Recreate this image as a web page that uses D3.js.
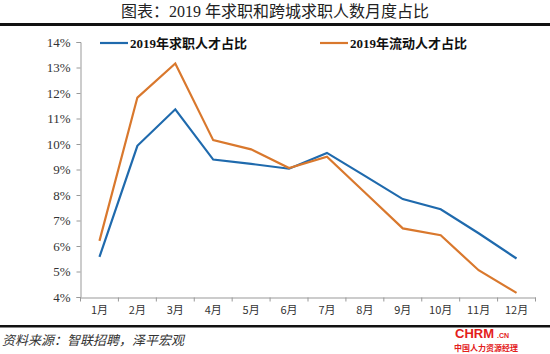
<!DOCTYPE html>
<html><head><meta charset="utf-8">
<script src="https://cdn.jsdelivr.net/npm/d3@7"></script>
<style>body{margin:0;background:#fff;}svg{display:block;}</style>
</head><body>
<svg id="c" width="550" height="354"></svg>
<script>
const months = ["1月","2月","3月","4月","5月","6月","7月","8月","9月","10月","11月","12月"];
const seekers = [5.57,9.93,11.36,9.39,9.22,9.03,9.65,8.75,7.84,7.44,6.5,5.51];
const mobile = [6.2,11.82,13.16,10.15,9.79,9.06,9.5,8.1,6.69,6.42,5.05,4.16];
const yTicks = [4,5,6,7,8,9,10,11,12,13,14];
const seriesNames = ["2019年求职人才占比","2019年流动人才占比"];
const colors = ["#1f6aad","#d9782d"];

const svg = d3.select("#c");
const x = d3.scaleBand().domain(months).range([80.5,535.5]);
const y = d3.scaleLinear().domain([4,14]).range([297,42]);

// title
svg.append("text").attr("x",275).attr("y",17).attr("text-anchor","middle")
  .attr("font-family","'Liberation Serif','Noto Sans CJK SC',serif").attr("font-size",16).attr("fill","#222")
  .text("图表：2019 年求职和跨城求职人数月度占比");
svg.append("rect").attr("x",0).attr("y",23).attr("width",550).attr("height",3).attr("fill","#111");

// y axis
const ya = svg.append("g").attr("transform","translate(80.5,0)")
  .call(d3.axisLeft(y).tickValues(yTicks).tickSize(4).tickPadding(6).tickFormat(d=>d+"%"));
ya.select(".domain").attr("stroke","#999");
ya.selectAll(".tick line").attr("stroke","#999");
ya.selectAll("text").attr("font-family","'Liberation Serif',serif").attr("font-size",13).attr("fill","#333");

// x axis
const xa = svg.append("g").attr("transform","translate(0,297.5)")
  .call(d3.axisBottom(x).tickSize(0).tickPadding(9));
xa.select(".domain").attr("stroke","#999");
xa.selectAll("text").attr("font-family","'Noto Sans CJK SC',sans-serif").attr("font-size",11).attr("fill","#333");
const edges = months.map((m,i)=>x(m)).concat([x.range()[1]]);
svg.append("g").selectAll("line").data(edges).join("line")
  .attr("x1",d=>d).attr("x2",d=>d).attr("y1",297.5).attr("y2",301.5).attr("stroke","#999");

// lines
const line = d3.line().x((d,i)=>x(months[i])+x.bandwidth()/2).y(d=>y(d));
[seekers,mobile].forEach((s,k)=>{
  svg.append("path").datum(s).attr("d",line).attr("fill","none")
    .attr("stroke",colors[k]).attr("stroke-width",2.2).attr("stroke-linejoin","miter");
});

// legend
const legX = [100,320];
seriesNames.forEach((n,k)=>{
  svg.append("line").attr("x1",legX[k]).attr("x2",legX[k]+28).attr("y1",43).attr("y2",43)
    .attr("stroke",colors[k]).attr("stroke-width",2.2);
  svg.append("text").attr("x",legX[k]+30).attr("y",48)
    .attr("font-family","'Liberation Serif','Noto Sans CJK SC',serif").attr("font-weight","bold")
    .attr("font-size",13).attr("fill","#111").text(n);
});

// bottom rule and source
svg.append("rect").attr("x",0).attr("y",325).attr("width",550).attr("height",2.5).attr("fill","#111");
svg.append("text").attr("x",2).attr("y",345).attr("font-family","'Noto Sans CJK SC',sans-serif")
  .attr("font-style","italic").attr("font-size",13).attr("fill","#333").text("资料来源：智联招聘，泽平宏观");

// watermark
svg.append("text").attr("x",455).attr("y",338).attr("font-family","'Liberation Sans',sans-serif")
  .attr("font-weight","bold").attr("font-size",13).attr("fill","#e3201b").text("CHRM");
svg.append("text").attr("x",497).attr("y",338).attr("font-family","'Liberation Sans',sans-serif")
  .attr("font-weight","bold").attr("font-size",7).attr("fill","#e3201b").text(".CN");
svg.append("text").attr("x",454).attr("y",351).attr("font-family","'Noto Sans CJK SC',sans-serif")
  .attr("font-weight","bold").attr("font-size",8).attr("fill","#e3201b").text("中国人力资源经理");
</script>
</body></html>
